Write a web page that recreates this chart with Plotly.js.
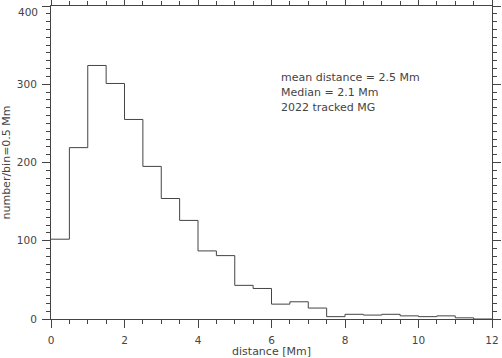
<!DOCTYPE html>
<html>
<head>
<meta charset="utf-8">
<script src="https://cdn.plot.ly/plotly-3.0.1.min.js"></script>
<style>html,body{margin:0;padding:0;background:#fff;}#chart{width:502px;height:358px;}</style>
</head>
<body>
<div id="chart"></div>
<script>
var binLeft = [0,0.5,1,1.5,2,2.5,3,3.5,4,4.5,5,5.5,6,6.5,7,7.5,8,8.5,9,9.5,10,10.5,11,11.5];
var counts  = [102,219,324,301,255,195,154,126,87,81,43,39,19,22,14,3,6,5,6,4,3,4,1.5,0];
var binWidth = 0.5;
var xTickVals = [0,2,4,6,8,10,12];
var xTickText = ["0","2","4","6","8","10","12"];
var yTickVals = [0,100,200,300,400];
var yTickText = ["0","100","200","300","400"];
var notes = ["mean distance = 2.5 Mm","Median = 2.1 Mm","2022 tracked MG"];
var noteY = [309,290,270];

var xs = binLeft.slice(); xs.push(binLeft[binLeft.length-1]+binWidth);
var ys = counts.slice(); ys.push(counts[counts.length-1]);

var fnt = {family:"DejaVu Sans, Liberation Sans, sans-serif", size:11, color:"#444"};
var tfnt = {family:"DejaVu Sans, Liberation Sans, sans-serif", size:10.5, color:"#444"};
var ax = {
  showline:true, linecolor:"#444", linewidth:1, mirror:"ticks",
  ticks:"outside", ticklen:8, tickcolor:"#444", tickwidth:1,
  showgrid:false, zeroline:false, tickfont:tfnt, tickmode:"array",
  minor:{ticks:"outside", ticklen:4, tickcolor:"#444", tickwidth:1, showgrid:false}
};
var xa = Object.assign({}, ax, {range:[0,12], tickvals:xTickVals, ticktext:xTickText, ticklabelstandoff:3,
  minor:Object.assign({}, ax.minor,{tickmode:"linear", tick0:0, dtick:0.5}),
  title:{text:"distance [Mm]", font:fnt, standoff:4}});
// top label drawn separately (it would overflow the page), others via axis
var ya = Object.assign({}, ax, {range:[0,400], tickvals:yTickVals, ticktext:yTickText.slice(0,4).concat([""]), ticklabelstandoff:3,
  minor:Object.assign({}, ax.minor,{tickmode:"linear", tick0:0, dtick:10}),
  title:{text:"number/bin=0.5 Mm", font:fnt, standoff:4}});

var ann = notes.map(function(t,i){return {x:6.2, y:noteY[i], xref:"x", yref:"y", text:t, showarrow:false, xanchor:"left", yanchor:"middle", font:fnt};});
ann.push({x:0, y:yTickVals[4], xref:"paper", yref:"y", text:yTickText[4], showarrow:false, xanchor:"right", yanchor:"top", xshift:-11, yshift:2, font:tfnt});

Plotly.newPlot("chart", [{x:xs, y:ys, type:"scatter", mode:"lines", line:{shape:"hv", color:"#444", width:1}, hoverinfo:"skip", cliponaxis:false}], {
  width:502, height:358, margin:{l:51, r:10, t:6, b:39},
  paper_bgcolor:"#fff", plot_bgcolor:"#fff", showlegend:false,
  xaxis:xa, yaxis:ya, annotations:ann
}, {staticPlot:true, displayModeBar:false});
</script>
</body>
</html>
